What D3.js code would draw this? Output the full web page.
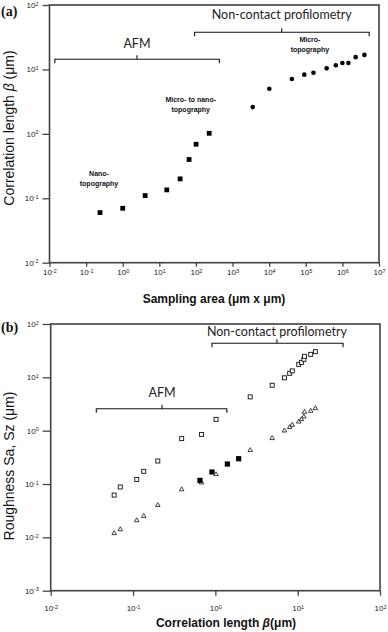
<!DOCTYPE html>
<html>
<head>
<meta charset="utf-8">
<script src="https://cdn.jsdelivr.net/npm/d3@7"></script>
<style>
body{margin:0;background:#fff}
svg{display:block}
.tick text{font-family:"Liberation Sans",Arial,sans-serif;font-size:8px;fill:#222}
.tick line{stroke:#444;stroke-width:1.3}
.frame{fill:none;stroke:#404040;stroke-width:1.6}
.bracket{fill:none;stroke:#111;stroke-width:1.1}
.bracketLabel{font-family:Lato,"Open Sans",sans-serif;font-size:12.5px;fill:#222;text-anchor:middle}
.zone{font-family:"Liberation Sans",Arial,sans-serif;font-size:7px;font-weight:bold;fill:#111;text-anchor:middle}
.xTitle{font-family:"Liberation Sans",Arial,sans-serif;font-size:12px;font-weight:bold;fill:#111;text-anchor:middle}
.yTitle{font-family:"Liberation Sans",Arial,sans-serif;font-size:14px;fill:#111;text-anchor:middle}
.panel{font-family:"Liberation Serif","Times New Roman",serif;font-size:14px;font-weight:bold;fill:#111}
</style>
</head>
<body>
<div id="chart"></div>
<script>
// panel (a): sampling area vs correlation length
var areaAfm = [0.24, 1.0, 4.1, 16, 37, 65, 101, 230];
var betaAfmA = [0.060, 0.070, 0.11, 0.135, 0.20, 0.40, 0.69, 1.02];
var areaNc = [3560, 10100, 41700, 91000, 162000, 372000, 661000, 1.0e6, 1.46e6, 2.3e6, 4.0e6];
var betaNcA = [2.6, 5.0, 7.1, 8.3, 8.9, 10.4, 11.6, 12.6, 12.6, 15.5, 16.8];

// panel (b): correlation length vs roughness
var betaAfmB = [0.059, 0.070, 0.111, 0.135, 0.20, 0.39, 0.68, 1.02];
var szAfm = [0.062, 0.088, 0.122, 0.173, 0.27, 0.71, 0.85, 1.63];
var saAfm = [0.0119, 0.0141, 0.0208, 0.025, 0.040, 0.079, 0.106, 0.152];
var betaNcB = [2.65, 4.9, 6.9, 8.0, 8.6, 10.3, 11.1, 11.9, 12.1, 14.4, 16.4];
var szNc = [4.3, 7.1, 9.8, 11.9, 13.2, 17.5, 19.1, 21.8, 24.8, 27.0, 30.3];
var saNc = [0.43, 0.72, 1.0, 1.16, 1.28, 1.47, 1.63, 1.83, 2.24, 2.34, 2.62];
var betaMid = [0.65, 0.91, 1.40, 1.92];
var roughMid = [0.117, 0.168, 0.237, 0.298];

// ticks (powers of ten)
var ticksAx = [-2, -1, 0, 1, 2, 3, 4, 5, 6, 7];
var ticksAy = [-2, -1, 0, 1, 2];
var ticksBx = [-2, -1, 0, 1, 2];
var ticksBy = [-3, -2, -1, 0, 1, 2];

// annotations (data units)
var zoneText = [["Nano-", "topography"], ["Micro- to nano-", "topography"], ["Micro-", "topography"]];
var zoneX = [0.225, 72, 1.3e5];
var zoneY = [0.223, 3.15, 26.9];

var bracketsA = [
    {label: "AFM", x0: 0.014, x1: 437, mid: 2.45, y: 14.4, ty: 21.6},
    {label: "Non-contact profilometry", x0: 92, x1: 5.4e6, mid: 2.2e4, y: 37.8, ty: 59.7}
];
var bracketsB = [
    {label: "AFM", x0: 0.0358, x1: 1.38, mid: 0.225, y: 2.58, ty: 4.27},
    {label: "Non-contact profilometry", x0: 0.91, x1: 35.6, mid: 5.6, y: 43.5, ty: 58.3}
];

var W = 388, H = 632;
var svg = d3.select('#chart').append('svg').attr('width', W).attr('height', H);

// scales
var xA = d3.scaleLog().domain([1e-2, 1e7]).range([49.5, 379]);
var yA = d3.scaleLog().domain([1e-2, 1e2]).range([262.7, 5]);
var xB = d3.scaleLog().domain([1e-2, 1e2]).range([50.7, 380]);
var yB = d3.scaleLog().domain([1e-3, 1e2]).range([590.7, 324]);

function pow10(e) { return Math.pow(10, e); }

// writes "10" with a superscript exponent
function sup(sel) {
    sel.each(function(d) {
        var e = Math.round(Math.log10(d));
        var t = d3.select(this).text('10');
        t.append('tspan').attr('dy', '-0.45em').style('font-size', '5.5px').text(e);
    });
}

function drawAxes(x, y, tx, ty, xTick, yTick, xPad) {
    var g = svg.append('g');
    var ax = d3.axisBottom(x).tickValues(tx.map(pow10)).tickSize(xTick).tickSizeOuter(0).tickPadding(xPad);
    var ay = d3.axisLeft(y).tickValues(ty.map(pow10)).tickSize(yTick).tickSizeOuter(0).tickPadding(4);
    g.append('g').attr('transform', 'translate(0,' + y.range()[0] + ')').call(ax)
        .call(function(s) { s.select('.domain').remove(); s.selectAll('.tick text').call(sup); });
    g.append('g').attr('transform', 'translate(' + x.range()[0] + ',0)').call(ay)
        .call(function(s) { s.select('.domain').remove(); s.selectAll('.tick text').call(sup); });
    g.append('rect').attr('class', 'frame')
        .attr('x', x.range()[0]).attr('y', y.range()[1])
        .attr('width', x.range()[1] - x.range()[0])
        .attr('height', y.range()[0] - y.range()[1]);
}

function drawBrackets(list, x, y) {
    list.forEach(function(b) {
        var yy = y(b.y), a = x(b.x0), c = x(b.x1), m = x(b.mid);
        svg.append('path').attr('class', 'bracket')
            .attr('d', 'M' + a + ',' + (yy + 4) + 'V' + yy + 'H' + c + 'V' + (yy + 4) +
                  'M' + m + ',' + yy + 'V' + (yy - 4));
        svg.append('text').attr('class', 'bracketLabel')
            .attr('x', m).attr('y', y(b.ty)).text(b.label);
    });
}

// ---- panel (a)
drawAxes(xA, yA, ticksAx, ticksAy, 4, 7, 3);

svg.append('g').selectAll('rect')
    .data(areaAfm).enter().append('rect')
    .attr('x', function(d) { return xA(d) - 2.4; })
    .attr('y', function(d, i) { return yA(betaAfmA[i]) - 2.4; })
    .attr('width', 4.8).attr('height', 4.8).attr('fill', '#000');

svg.append('g').selectAll('circle')
    .data(areaNc).enter().append('circle')
    .attr('cx', function(d) { return xA(d); })
    .attr('cy', function(d, i) { return yA(betaNcA[i]); })
    .attr('r', 2.3).attr('fill', '#000');

zoneText.forEach(function(lines, i) {
    var t = svg.append('text').attr('class', 'zone')
        .attr('x', xA(zoneX[i])).attr('y', yA(zoneY[i]));
    lines.forEach(function(s, j) {
        t.append('tspan').attr('x', xA(zoneX[i])).attr('dy', j ? 10 : 0).text(s);
    });
});

drawBrackets(bracketsA, xA, yA);

svg.append('text').attr('class', 'xTitle').attr('x', 214).attr('y', 303)
    .text('Sampling area (μm x μm)');
var ytA = svg.append('text').attr('class', 'yTitle')
    .attr('transform', 'translate(14,128) rotate(-90)');
ytA.append('tspan').text('Correlation length ');
ytA.append('tspan').style('font-style', 'italic').text('β');
ytA.append('tspan').text(' (μm)');

svg.append('text').attr('class', 'panel').attr('x', 1).attr('y', 16).text('(a)');

// ---- panel (b)
drawAxes(xB, yB, ticksBx, ticksBy, 5, 8, 10);

svg.append('g').selectAll('rect')
    .data(betaAfmB.concat(betaNcB)).enter().append('rect')
    .attr('x', function(d) { return xB(d) - 2; })
    .attr('y', function(d, i) { return yB(szAfm.concat(szNc)[i]) - 2; })
    .attr('width', 4).attr('height', 4)
    .attr('fill', '#fff').attr('stroke', '#111').attr('stroke-width', 0.9);

var tri = d3.symbol().type(d3.symbolTriangle).size(9);
svg.append('g').selectAll('path')
    .data(betaAfmB.concat(betaNcB)).enter().append('path')
    .attr('d', tri)
    .attr('transform', function(d, i) {
        return 'translate(' + xB(d) + ',' + yB(saAfm.concat(saNc)[i]) + ')';
    })
    .attr('fill', '#fff').attr('stroke', '#111').attr('stroke-width', 0.8);

svg.append('g').selectAll('rect')
    .data(betaMid).enter().append('rect')
    .attr('x', function(d) { return xB(d) - 2.6; })
    .attr('y', function(d, i) { return yB(roughMid[i]) - 2.6; })
    .attr('width', 5.2).attr('height', 5.2).attr('fill', '#000');

drawBrackets(bracketsB, xB, yB);

var xtB = svg.append('text').attr('class', 'xTitle').attr('x', 226).attr('y', 627);
xtB.append('tspan').text('Correlation length ');
xtB.append('tspan').style('font-style', 'italic').text('β');
xtB.append('tspan').text('(μm)');

svg.append('text').attr('class', 'yTitle')
    .attr('transform', 'translate(14,466) rotate(-90)')
    .text('Roughness Sa, Sz (μm)');

svg.append('text').attr('class', 'panel').attr('x', 1).attr('y', 332).text('(b)');
</script>
</body>
</html>
